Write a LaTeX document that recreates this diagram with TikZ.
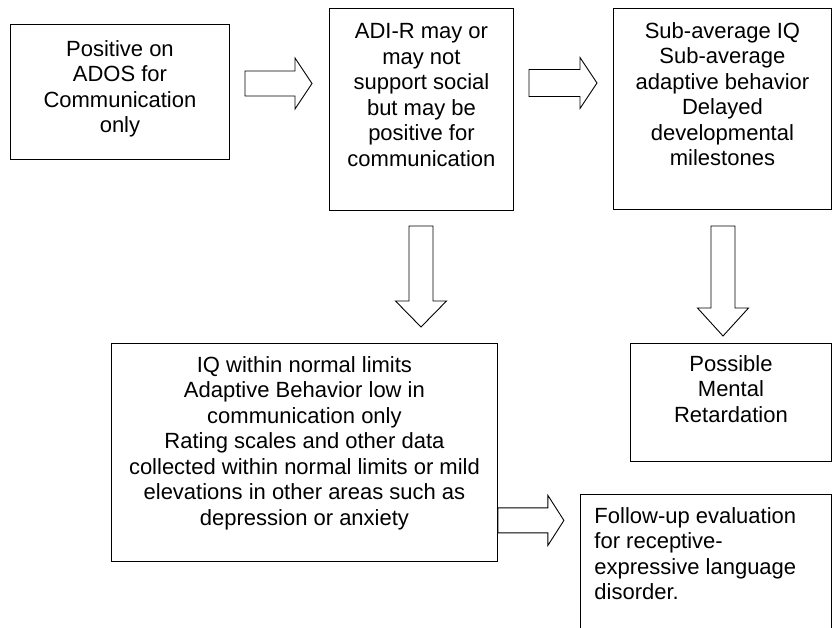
\documentclass[tikz,border=0pt]{standalone}
\usepackage{fontspec}
\setmainfont{Liberation Sans}
\usetikzlibrary{calc}
\newcommand\boxtxt[4]{\parbox[t][#2][t]{#1}{\vspace*{#3}\centering #4\par}}
\newcommand\boxtxtl[4]{\parbox[t][#2][t]{#1}{\vspace*{#3}\raggedright\leftskip=14pt\relax #4\par}}
\tikzset{
  box/.style={draw=black, line width=0.9pt, inner sep=0pt, anchor=north west,
    font=\fontsize{22pt}{25.5pt}\selectfont},
  blk/.style={draw=black, line width=0.9pt, fill=white, line join=miter},
}
\begin{document}
\begin{tikzpicture}[x=1pt, y=-1pt]
\useasboundingbox (0,0) rectangle (833,627);
\clip (0,0) rectangle (833,627);
\fill[white] (0,0) rectangle (833,627);

\node[box] (b1) at (10,24) {\boxtxt{219pt}{135pt}{16pt}{Positive on\\ADOS for\\Communication\\only}};
\node[box] (b2) at (329,8) {\boxtxt{184pt}{202pt}{15pt}{ADI-R may or\\may not\\support social\\but may be\\positive for\\communication}};
\node[box] (b3) at (613,8) {\boxtxt{218pt}{201pt}{14pt}{Sub-average IQ\\Sub-average\\adaptive behavior\\Delayed\\developmental\\milestones}};
\node[box] (b4) at (111,343) {\boxtxt{386pt}{218pt}{13pt}{IQ within normal limits\\Adaptive Behavior low in\\communication only\\Rating scales and other data\\collected within normal limits or mild\\elevations in other areas such as\\depression or anxiety}};
\node[box] (b6) at (630,343) {\boxtxt{201pt}{118pt}{12pt}{Possible\\Mental\\Retardation}};
\node[box] (b5) at (580,494) {\boxtxtl{251pt}{160pt}{13pt}{Follow-up evaluation\\for receptive-\\expressive language\\disorder.}};

% block arrows
\coordinate (a1) at (245,83.5);
\draw[blk] (a1) ++(0,-12.5) -- ++(50,0) -- ++(0,-13) -- ++(17,25.5) -- ++(-17,25.5) -- ++(0,-13) -- ++(-50,0) -- cycle;
\coordinate (a2) at (529,83);
\draw[blk] (a2) ++(0,-13.5) -- ++(51,0) -- ++(0,-12) -- ++(17,25.5) -- ++(-17,25.5) -- ++(0,-12) -- ++(-51,0) -- cycle;
\coordinate (a3) at (421,226);
\draw[blk] (a3) ++(-12,0) -- ++(0,75) -- ++(-13.5,0) -- ++(25.5,26) -- ++(25.5,-26) -- ++(-13.5,0) -- ++(0,-75) -- cycle;
\coordinate (a4) at (723,226);
\draw[blk] (a4) ++(-12,0) -- ++(0,82) -- ++(-13.5,0) -- ++(25.5,28) -- ++(25.5,-28) -- ++(-13.5,0) -- ++(0,-82) -- cycle;
\coordinate (a5) at ($(b4.south east)+(0,-41.5)$);
\draw[blk] (a5) ++(0,-12.5) -- ++(50,0) -- ++(0,-12.5) -- ++(16,25) -- ++(-16,25) -- ++(0,-12.5) -- ++(-50,0) -- cycle;
\draw[line width=0.9pt] (b4.south east) -- (b4.north east);
\end{tikzpicture}
\end{document}
